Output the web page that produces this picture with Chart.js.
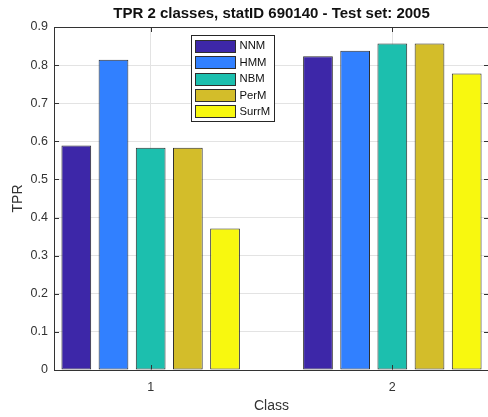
<!DOCTYPE html>
<html>
<head>
<meta charset="utf-8">
<script src="https://cdn.jsdelivr.net/npm/chart.js@4/dist/chart.umd.min.js"></script>
<style>
  html, body { margin: 0; padding: 0; background: #fff; overflow: hidden; }
  canvas { display: block; }
</style>
</head>
<body>
<canvas id="c" width="490" height="417"></canvas>
<script>
// ---- data ----
const classes = [1, 2];
const seriesNames = ['NNM', 'HMM', 'NBM', 'PerM', 'SurrM'];
const NNM   = [0.589, 0.823];
const HMM   = [0.814, 0.838];
const NBM   = [0.583, 0.857];
const PerM  = [0.583, 0.857];
const SurrM = [0.371, 0.778];
const yTicks = [0, 0.1, 0.2, 0.3, 0.4, 0.5, 0.6, 0.7, 0.8, 0.9];
const titleText = 'TPR 2 classes, statID 690140 - Test set: 2005';

const seriesValues = [NNM, HMM, NBM, PerM, SurrM];
const seriesColors = ['#3D27A8', '#3180FF', '#1CBFAE', '#D3BD2A', '#F8F80F'];

const datasets = seriesNames.map((name, i) => ({
  label: name,
  data: seriesValues[i].map((v, j) => ({ x: classes[j], y: v })),
  backgroundColor: seriesColors[i],
  borderColor: '#2e2e2e',
  borderWidth: 1,
  borderSkipped: false,
  categoryPercentage: 5 / 6.5,
  barPercentage: 0.8
}));

const AXIS = '#333333';
const TICKLEN = 4.5;

const framePlugin = {
  id: 'frame',
  afterDraw(chart) {
    const { ctx, chartArea: a, scales } = chart;
    ctx.save();
    ctx.strokeStyle = AXIS;
    ctx.lineWidth = 1;
    const L = Math.round(a.left) + 0.5, R = Math.round(a.right) - 0.5;
    const T = Math.round(a.top) + 0.5, B = Math.round(a.bottom) - 0.5;
    ctx.beginPath();
    ctx.moveTo(L, T); ctx.lineTo(R, T);
    ctx.moveTo(R, T); ctx.lineTo(R, B);
    // y ticks (inward, both sides)
    yTicks.forEach(v => {
      const y = Math.round(scales.y.getPixelForValue(v)) + 0.5;
      ctx.moveTo(L, y); ctx.lineTo(L + TICKLEN, y);
      ctx.moveTo(R, y); ctx.lineTo(R - TICKLEN, y);
    });
    classes.forEach(c => {
      const x = Math.round(scales.x.getPixelForValue(c)) + 0.5;
      ctx.moveTo(x, B); ctx.lineTo(x, B - TICKLEN);
      ctx.moveTo(x, T); ctx.lineTo(x, T + TICKLEN);
    });
    ctx.stroke();

    // legend box
    const lx = 191.5, ly = 35.5, lw = 83, lh = 86;
    ctx.fillStyle = '#ffffff';
    ctx.fillRect(lx, ly, lw, lh);
    ctx.strokeStyle = '#262626';
    ctx.strokeRect(lx, ly, lw, lh);
    ctx.font = '11.3px "Liberation Sans", Arial, sans-serif';
    ctx.textBaseline = 'middle';
    ctx.textAlign = 'left';
    chart.data.datasets.forEach((ds, i) => {
      const cy = 45.8 + i * 16.4;
      ctx.fillStyle = ds.backgroundColor;
      ctx.fillRect(195.5, Math.round(cy - 6) + 0.5, 40, 12);
      ctx.strokeStyle = '#2e2e2e';
      ctx.strokeRect(195.5, Math.round(cy - 6) + 0.5, 40, 12);
      ctx.fillStyle = '#111111';
      ctx.fillText(ds.label, 239.5, cy + 0.5);
    });
    ctx.restore();
  }
};

new Chart(document.getElementById('c'), {
  type: 'bar',
  data: { datasets },
  options: {
    responsive: false,
    animation: false,
    devicePixelRatio: 1,
    layout: { padding: { left: 0, right: 1, top: 0, bottom: 0 } },
    plugins: {
      legend: { display: false },
      tooltip: { enabled: false },
      title: {
        display: true,
        fullSize: false,
        text: titleText,
        color: '#111111',
        font: { family: '"Liberation Sans", Arial, sans-serif', size: 15, weight: 'bold' },
        padding: { top: 5, bottom: 4 }
      }
    },
    scales: {
      x: {
        type: 'linear',
        min: 0.6,
        max: 2.4,
        offset: false,
        afterFit(s) { s.height = 47; },
        grid: { offset: false, color: '#e3e3e3', drawTicks: false },
        border: { display: true, color: AXIS },
        ticks: {
          stepSize: 1,
          includeBounds: false,
          padding: 10,
          color: '#333333',
          font: { family: '"Liberation Sans", Arial, sans-serif', size: 12.5 },
          callback: v => String(v)
        },
        title: {
          display: true,
          text: 'Class',
          color: '#333333',
          font: { family: '"Liberation Sans", Arial, sans-serif', size: 14 },
          padding: { top: 0, bottom: 2.5 }
        }
      },
      y: {
        min: 0,
        max: 0.9,
        afterFit(s) { s.width = 54; },
        afterBuildTicks(s) { s.ticks = yTicks.map(v => ({ value: v })); },
        grid: { color: '#e3e3e3', drawTicks: false },
        border: { display: true, color: AXIS },
        ticks: {
          padding: 6,
          color: '#333333',
          font: { family: '"Liberation Sans", Arial, sans-serif', size: 12.5 },
          callback: v => String(Math.round(v * 10) / 10)
        },
        title: {
          display: true,
          text: 'TPR',
          color: '#333333',
          font: { family: '"Liberation Sans", Arial, sans-serif', size: 14 },
          padding: { top: 10, bottom: 0 }
        }
      }
    }
  },
  plugins: [framePlugin]
});
</script>
</body>
</html>
